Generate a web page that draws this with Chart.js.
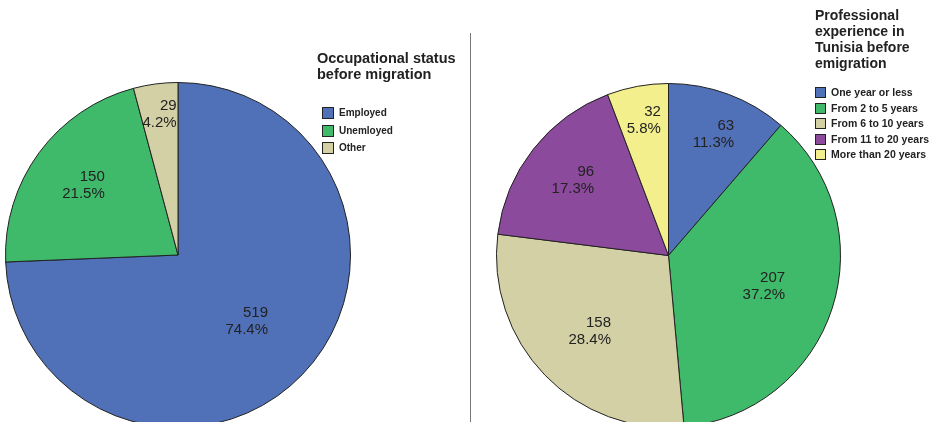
<!DOCTYPE html>
<html>
<head>
<meta charset="utf-8">
<script src="https://cdn.jsdelivr.net/npm/chart.js@4.4.1/dist/chart.umd.min.js"></script>
<style>
  html, body { margin: 0; padding: 0; background: #fff; }
  body { width: 935px; height: 422px; overflow: hidden; position: relative;
         font-family: "Liberation Sans", Arial, sans-serif; color: #222; }
  .box { position: absolute; top: 0; height: 520px; }
  .title { position: absolute; font-weight: bold; line-height: 16px; color: #222; }
  .legend { position: absolute; font-weight: bold; font-size: 10px; }
  .legend div { position: relative; white-space: nowrap; }
  .legend span { position: absolute; left: 0; border: 1px solid #222; box-sizing: border-box; }
  .divider { position: absolute; left: 470px; top: 33px; width: 1px; height: 400px; background: #777; }
</style>
</head>
<body>
<div class="box" id="leftBox" style="left:0;width:470px"><canvas id="occChart" width="470" height="520"></canvas></div>
<div class="box" id="rightBox" style="left:470px;width:465px"><canvas id="expChart" width="465" height="520"></canvas></div>
<div class="divider"></div>
<div class="title" style="left:317px;top:50px;font-size:14.5px">Occupational status<br>before migration</div>
<div class="legend" id="occLegend" style="left:322px;top:107px"></div>
<div class="title" style="left:815px;top:7px;font-size:14px">Professional<br>experience in<br>Tunisia before<br>emigration</div>
<div class="legend" id="expLegend" style="left:815px;top:87px;font-size:10.5px"></div>
<script>
// Occupational status before migration
const occLabels = ['Employed', 'Unemloyed', 'Other'];
const occValues = [519, 150, 29];
const occColors = ['#5070b8', '#3fb96a', '#d4d0a6'];

// Professional experience in Tunisia before emigration
const expLabels = ['One year or less', 'From 2 to 5 years', 'From 6 to 10 years', 'From 11 to 20 years', 'More than 20 years'];
const expValues = [63, 207, 158, 96, 32];
const expColors = ['#5070b8', '#3fb96a', '#d4d0a6', '#8b4a9b', '#f2ef8c'];

// value + percent labels inside each slice, right aligned like the original
const sliceLabels = {
    id: 'sliceLabels',
    afterDatasetsDraw(chart) {
        const ctx = chart.ctx;
        const data = chart.data.datasets[0].data;
        const total = data.reduce((a, b) => a + b, 0);
        ctx.save();
        ctx.font = '15px "Liberation Sans", Arial, sans-serif';
        ctx.fillStyle = '#222';
        ctx.textAlign = 'right';
        ctx.textBaseline = 'middle';
        chart.getDatasetMeta(0).data.forEach((arc, i) => {
            const share = data[i] / total;
            const mid = (arc.startAngle + arc.endAngle) / 2;
            // narrow slices push their label further out
            const f = Math.min(0.85, Math.max(0.55, 0.8 - 0.6 * share) + 0.002 / share);
            const x = arc.x + Math.cos(mid) * arc.outerRadius * f;
            const y = arc.y + Math.sin(mid) * arc.outerRadius * f;
            const l1 = String(data[i]);
            const l2 = (share * 100).toFixed(1) + '%';
            const w = Math.max(ctx.measureText(l1).width, ctx.measureText(l2).width);
            ctx.fillText(l1, x + w / 2, y - 8.5);
            ctx.fillText(l2, x + w / 2, y + 8.5);
        });
        ctx.restore();
    }
};

function makePie(id, labels, values, colors, padding) {
    return new Chart(document.getElementById(id).getContext('2d'), {
        type: 'pie',
        data: {
            labels: labels,
            datasets: [{
                data: values,
                backgroundColor: colors,
                borderColor: '#222',
                borderWidth: 1
            }]
        },
        options: {
            responsive: false,
            animation: false,
            layout: { padding: padding },
            plugins: {
                legend: { display: false },
                tooltip: { enabled: false }
            }
        },
        plugins: [sliceLabels]
    });
}

function makeLegend(id, labels, colors, size, step) {
    const el = document.getElementById(id);
    labels.forEach((lab, i) => {
        const row = document.createElement('div');
        row.style.height = step + 'px';
        row.style.lineHeight = size + 'px';
        row.style.paddingLeft = (size + 5) + 'px';
        const sw = document.createElement('span');
        sw.style.width = size + 'px';
        sw.style.height = size + 'px';
        sw.style.background = colors[i];
        row.appendChild(sw);
        row.appendChild(document.createTextNode(lab));
        el.appendChild(row);
    });
}

const occChart = makePie('occChart', occLabels, occValues, occColors, { left: 5, top: 82, right: 119, bottom: 92 });
const expChart = makePie('expChart', expLabels, expValues, expColors, { left: 26, top: 83, right: 94, bottom: 92 });

makeLegend('occLegend', occLabels, occColors, 12, 17.5);
makeLegend('expLegend', expLabels, expColors, 11, 15.5);
</script>
</body>
</html>
